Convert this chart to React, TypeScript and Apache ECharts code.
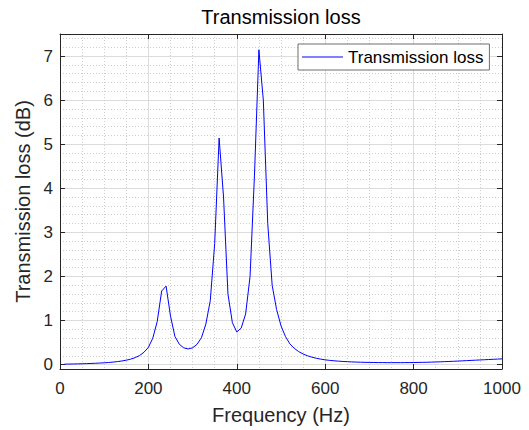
import React, { useEffect, useRef } from "react";
import * as echarts from "echarts";

const freqs = [
  10, 20, 30, 40, 50, 60, 70, 80, 90, 100,
  110, 120, 130, 140, 150, 160, 170, 180, 190, 200,
  210, 220, 230, 240, 250, 260, 270, 280, 290, 300,
  310, 320, 330, 340, 350, 360, 370, 380, 390, 400,
  410, 420, 430, 440, 450, 460, 470, 480, 490, 500,
  510, 520, 530, 540, 550, 560, 570, 580, 590, 600,
  610, 620, 630, 640, 650, 660, 670, 680, 690, 700,
  710, 720, 730, 740, 750, 760, 770, 780, 790, 800,
  810, 820, 830, 840, 850, 860, 870, 880, 890, 900,
  910, 920, 930, 940, 950, 960, 970, 980, 990, 1000,
];

const transmissionLoss = [
  0.010, 0.012, 0.014, 0.016, 0.019, 0.022, 0.026, 0.030, 0.035, 0.041,
  0.048, 0.057, 0.068, 0.082, 0.100, 0.124, 0.158, 0.205, 0.280, 0.390,
  0.600, 0.980, 1.670, 1.780, 1.100, 0.640, 0.460, 0.380, 0.355, 0.380,
  0.460, 0.610, 0.920, 1.450, 2.750, 5.140, 3.800, 1.600, 0.950, 0.740,
  0.830, 1.150, 2.000, 4.300, 7.140, 6.000, 3.200, 1.800, 1.250, 0.880,
  0.640, 0.470, 0.370, 0.295, 0.240, 0.200, 0.168, 0.143, 0.124, 0.108,
  0.096, 0.086, 0.078, 0.071, 0.066, 0.061, 0.057, 0.054, 0.051, 0.049,
  0.047, 0.046, 0.045, 0.044, 0.044, 0.044, 0.044, 0.045, 0.046, 0.047,
  0.049, 0.051, 0.053, 0.056, 0.059, 0.063, 0.067, 0.071, 0.075, 0.080,
  0.085, 0.090, 0.095, 0.100, 0.105, 0.110, 0.115, 0.120, 0.125, 0.130,
];

const yMajorTicks = [0, 1, 2, 3, 4, 5, 6, 7];
const yMinorTicks = [
  0.2, 0.4, 0.6, 0.8, 1.2, 1.4, 1.6, 1.8, 2.2, 2.4, 2.6, 2.8,
  3.2, 3.4, 3.6, 3.8, 4.2, 4.4, 4.6, 4.8, 5.2, 5.4, 5.6, 5.8,
  6.2, 6.4, 6.6, 6.8, 7.2, 7.4,
];

const FONT = "'Liberation Sans', Arial, Helvetica, sans-serif";
const AXIS_COLOR = "#262626";
const MAJOR_GRID = "#dcdcdc";
const MINOR_GRID = "#cdcdcd";

export default function App() {
  const ref = useRef<HTMLDivElement>(null);

  useEffect(() => {
    if (!ref.current) return;
    const chart = echarts.init(ref.current, undefined, { renderer: "svg" });
    const data = freqs.map((f, i) => [f, transmissionLoss[i]]);
    const Y_MIN = -0.1;
    const Y_MAX = 7.5;

    chart.setOption({
      animation: false,
      backgroundColor: "#ffffff",
      textStyle: { fontFamily: FONT },
      title: {
        text: "Transmission loss",
        left: 281,
        textAlign: "center",
        top: 7,
        padding: 0,
        textStyle: { fontFamily: FONT, fontSize: 20, fontWeight: "normal", color: "#000000" },
      },
      legend: {
        left: 298,
        top: 44,
        padding: [4, 6, 4, 4],
        itemWidth: 41,
        itemHeight: 1,
        icon: "rect",
        itemStyle: { color: "#0000ff", borderWidth: 0 },
        backgroundColor: "#ffffff",
        borderColor: "#6e6e6e",
        borderWidth: 1,
        borderRadius: 0,
        textStyle: { fontFamily: FONT, fontSize: 17, color: "#000000", lineHeight: 18 },
        data: ["Transmission loss"],
      },
      grid: { left: 60, right: 27, top: 34, bottom: 59, containLabel: false },
      xAxis: [
        {
          type: "value",
          min: 0,
          max: 1000,
          interval: 200,
          name: "Frequency (Hz)",
          nameLocation: "middle",
          nameGap: 36,
          nameTextStyle: { fontFamily: FONT, fontSize: 20, color: AXIS_COLOR },
          axisLine: { show: true, onZero: false, lineStyle: { color: AXIS_COLOR, width: 1 } },
          axisTick: { show: true, inside: true, length: 5, lineStyle: { color: AXIS_COLOR } },
          axisLabel: {
            fontFamily: FONT,
            fontSize: 17,
            color: AXIS_COLOR,
            margin: 11,
            formatter: (v: number) => String(v),
          },
          splitLine: { show: true, lineStyle: { color: MAJOR_GRID, width: 1 } },
          minorTick: { show: false, splitNumber: 4 },
          minorSplitLine: { show: true, lineStyle: { color: MINOR_GRID, width: 1, type: [1, 2] } },
        },
        {
          type: "value",
          position: "top",
          min: 0,
          max: 1000,
          interval: 200,
          axisLine: { show: true, onZero: false, lineStyle: { color: AXIS_COLOR, width: 1 } },
          axisTick: { show: true, inside: true, length: 5, lineStyle: { color: AXIS_COLOR } },
          axisLabel: { show: false },
          splitLine: { show: false },
        },
      ],
      yAxis: [
        {
          type: "value",
          min: Y_MIN,
          max: Y_MAX,
          name: "Transmission loss (dB)",
          nameLocation: "middle",
          nameGap: 18,
          nameTextStyle: { fontFamily: FONT, fontSize: 20, color: AXIS_COLOR },
          axisLine: { show: true, onZero: false, lineStyle: { color: AXIS_COLOR, width: 1 } },
          axisTick: {
            show: true,
            inside: true,
            length: 5,
            customValues: yMajorTicks,
            lineStyle: { color: AXIS_COLOR },
          },
          axisLabel: {
            fontFamily: FONT,
            fontSize: 17,
            color: AXIS_COLOR,
            margin: 7,
            customValues: yMajorTicks,
            formatter: (v: number) => String(Math.round(v)),
          },
          splitLine: { show: true, lineStyle: { color: MAJOR_GRID, width: 1 } },
        },
        {
          type: "value",
          position: "left",
          min: Y_MIN,
          max: Y_MAX,
          axisLine: { show: false },
          axisTick: { show: false, customValues: yMinorTicks },
          axisLabel: { show: false, customValues: yMinorTicks },
          splitLine: { show: true, lineStyle: { color: MINOR_GRID, width: 1, type: [1, 2] } },
        },
        {
          type: "value",
          position: "right",
          min: Y_MIN,
          max: Y_MAX,
          axisLine: { show: true, onZero: false, lineStyle: { color: AXIS_COLOR, width: 1 } },
          axisTick: {
            show: true,
            inside: true,
            length: 5,
            customValues: yMajorTicks,
            lineStyle: { color: AXIS_COLOR },
          },
          axisLabel: { show: false, customValues: yMajorTicks },
          splitLine: { show: false },
        },
      ],
      series: [
        {
          name: "Transmission loss",
          type: "line",
          xAxisIndex: 0,
          yAxisIndex: 0,
          data,
          symbol: "none",
          showSymbol: false,
          lineStyle: { color: "#0000ff", width: 1 },
          itemStyle: { color: "#0000ff" },
          z: 5,
        },
      ],
    });

    return () => chart.dispose();
  }, []);

  return <div ref={ref} style={{ width: 529, height: 430, position: "absolute", left: 0, top: 0 }} />;
}
